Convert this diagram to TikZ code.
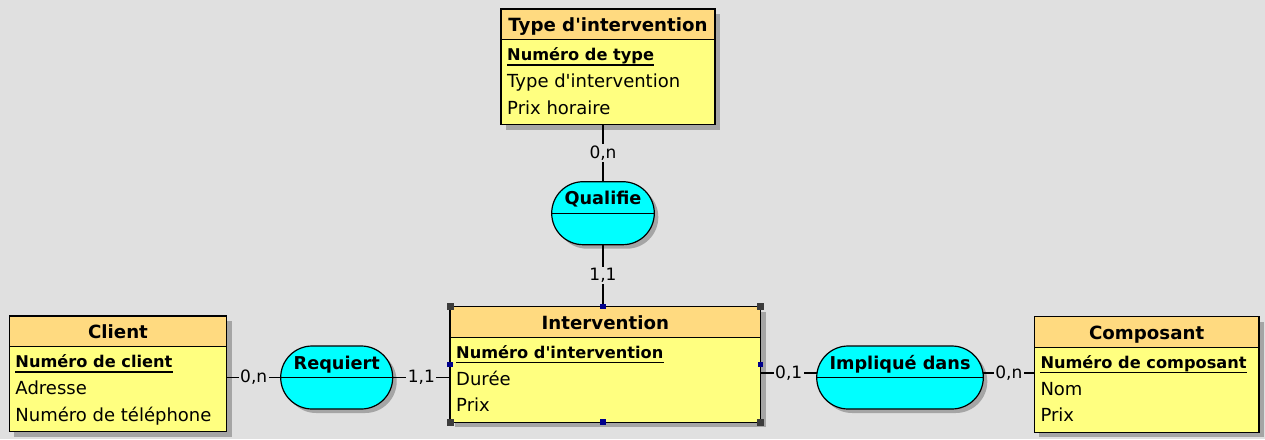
\documentclass[tikz,border=0pt]{standalone}
\usepackage{fontspec}
\newfontfamily\dvsans{DejaVu Sans}
\usetikzlibrary{shadows}
\definecolor{bg}{RGB}{224,224,224}
\definecolor{headc}{RGB}{255,218,128}
\definecolor{bodyc}{RGB}{255,255,128}
\definecolor{pillc}{RGB}{0,255,255}
\definecolor{shadowc}{RGB}{165,165,165}
\definecolor{handlec}{RGB}{0,0,140}
\definecolor{cornerc}{RGB}{60,60,60}
\newcommand{\erentity}[8]{%
  \node[entity, minimum width=#4] (#1) at (#2,#3) {};
  \fill[headc] (#1.north west) rectangle ([yshift=-30.5pt]#1.north east);
  \draw[edge] ([yshift=-30.5pt]#1.north west) -- ([yshift=-30.5pt]#1.north east);
  \draw[edge] (#1.north west) rectangle (#1.south east);
  \node[etitle] (#1-t) at ([yshift=-22.5pt]#1.north) {#5};
  \node[ekey] (#1-k) at ([xshift=6pt,yshift=-51.7pt]#1.north west) {#6};
  \draw[uline] ([yshift=-4.2pt]#1-k.base west) -- ([yshift=-4.2pt]#1-k.base east);
  \node[eattr] (#1-a) at ([xshift=6pt,yshift=-78.3pt]#1.north west) {#7};
  \node[eattr] (#1-b) at ([xshift=6pt,yshift=-105pt]#1.north west) {#8};
}
\newcommand{\erassoc}[5]{%
  \node[pill, minimum width=#4] (#1) at (#2,#3) {};
  \draw[edge] (#1.west) -- (#1.east);
  \node[ptext] (#1-t) at ([yshift=-23pt]#1.north) {#5};
}
\begin{document}
\begin{tikzpicture}[x=1pt,y=-1pt,
  edge/.style={draw=black, line width=1.2pt},
  uline/.style={draw=black, line width=1.4pt},
  entity/.style={draw=black, line width=1.2pt, fill=bodyc, anchor=north west,
    inner sep=0pt, outer sep=0pt, minimum height=115.5,
    drop shadow={shadow xshift=5pt, shadow yshift=-5pt, fill=shadowc, opacity=1}},
  pill/.style={draw=black, line width=1.2pt, fill=pillc, anchor=north west,
    inner sep=0pt, outer sep=0pt, minimum height=63, rounded corners=31.5pt,
    drop shadow={shadow xshift=4pt, shadow yshift=-4pt, fill=shadowc, opacity=1}},
  etitle/.style={anchor=base, inner sep=0pt, font=\dvsans\bfseries\fontsize{18.2}{20}\selectfont},
  ekey/.style={anchor=base west, inner sep=0pt, font=\dvsans\bfseries\fontsize{16.2}{19}\selectfont},
  eattr/.style={anchor=base west, inner sep=0pt, font=\dvsans\fontsize{18}{20}\selectfont},
  ptext/.style={anchor=base, inner sep=0pt, font=\dvsans\bfseries\fontsize{17.7}{20}\selectfont},
  card/.style={fill=bg, inner sep=1.5pt, font=\dvsans\fontsize{17}{19}\selectfont},
  chandle/.style={fill=cornerc, minimum size=7, inner sep=0pt},
  mhandle/.style={fill=handlec, minimum size=5.5, inner sep=0pt}
]
\useasboundingbox (0,0) rectangle (1265,439);
\fill[bg] (0,0) rectangle (1265,439);

\erentity{type}{501}{9}{214}{Type d'intervention}{Numéro de type}{Type d'intervention}{Prix horaire}
\erentity{client}{9.3}{316}{217.4}{Client}{Numéro de client}{Adresse}{Numéro de téléphone}
\erentity{interv}{450}{306.7}{310.7}{Intervention}{Numéro d'intervention}{Durée}{Prix}
\erentity{comp}{1034.3}{316.7}{224.7}{Composant}{Numéro de composant}{Nom}{Prix}

\erassoc{qual}{551.7}{181.7}{102.6}{Qualifie}
\erassoc{req}{280.7}{346}{112}{Requiert}
\erassoc{impl}{816.7}{346}{166.6}{Impliqué dans}

\draw[edge] (type.south -| qual.north) -- node[card]{0,n} (qual.north);
\draw[edge] (qual.south) -- node[card]{1,1} (qual.south |- interv.north);
\draw[edge] (client.east |- req.west) -- node[card]{0,n} (req.west);
\draw[edge] (req.east) -- node[card]{1,1} (req.east -| interv.west);
\draw[edge] ([yshift=4.5pt]impl.west -| interv.east) -- node[card]{0,1} ([yshift=4.5pt]impl.west);
\draw[edge] ([yshift=4.5pt]impl.east) -- node[card]{0,n} ([yshift=4.5pt]impl.east -| comp.west);

\foreach \a/\n in {north west/nw, north east/ne, south west/sw, south east/se}
  \node[chandle] (hc-\n) at (interv.\a) {};
\node[mhandle] (hm-n) at (qual.south |- interv.north) {};
\node[mhandle] (hm-s) at (qual.south |- interv.south) {};
\node[mhandle] (hm-w) at (interv.west) {};
\node[mhandle] (hm-e) at (interv.east) {};
\end{tikzpicture}
\end{document}
